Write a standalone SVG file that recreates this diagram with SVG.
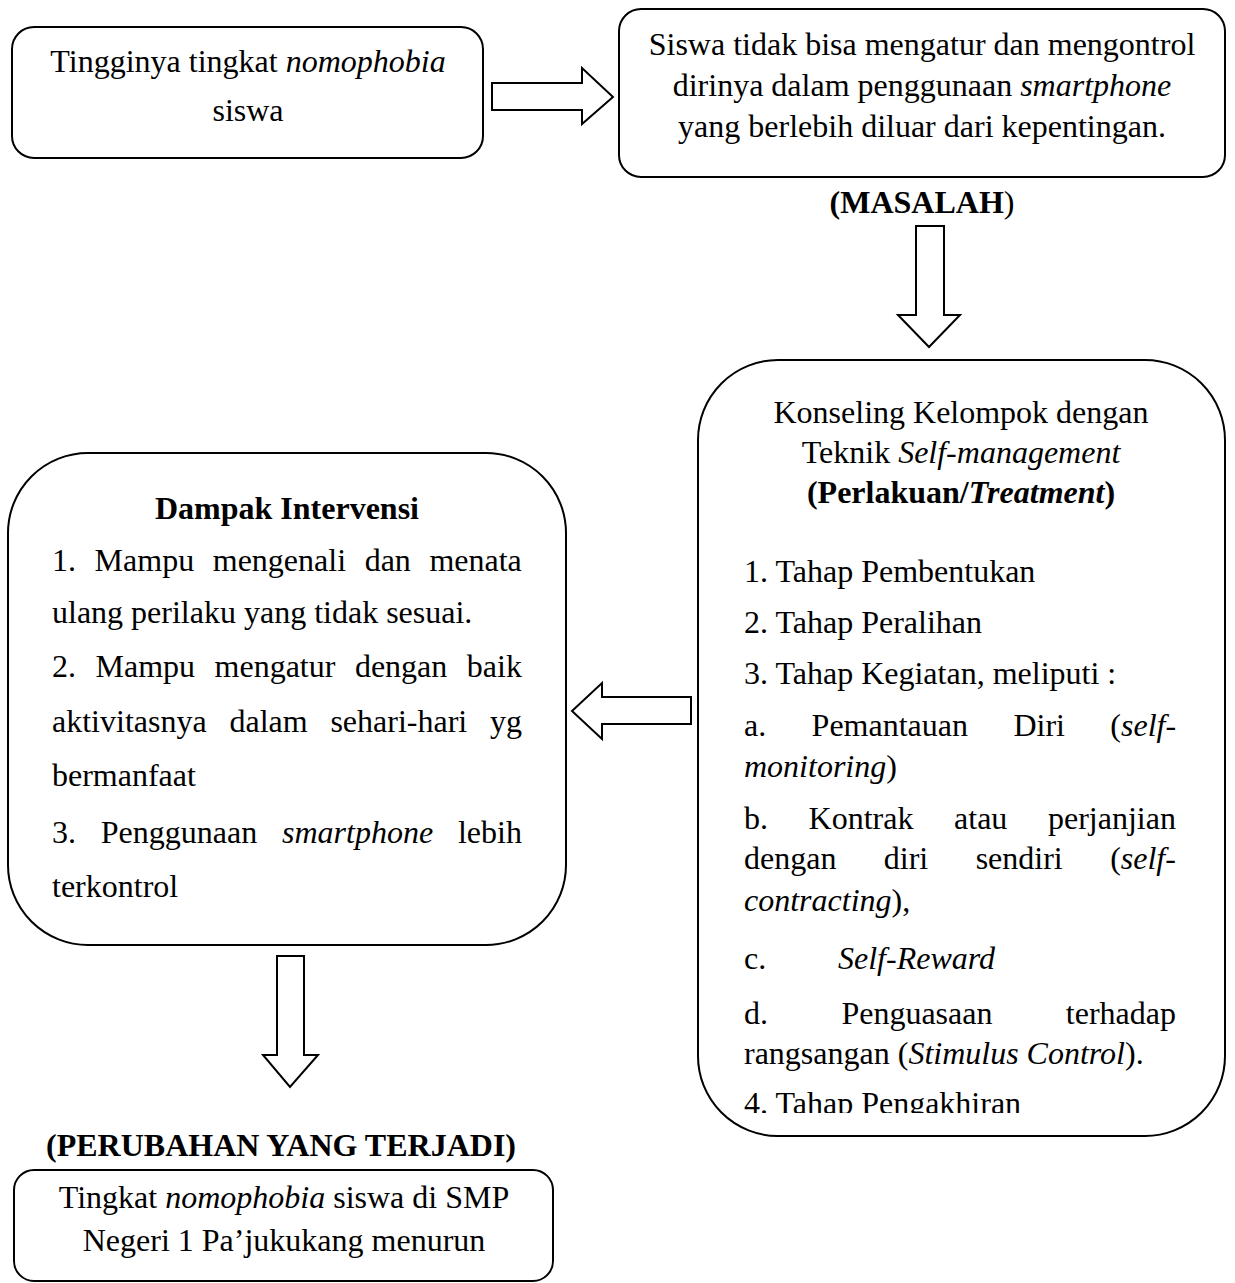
<svg xmlns="http://www.w3.org/2000/svg" width="1235" height="1283" viewBox="0 0 1235 1283">
<style>
.box{fill:#fff;stroke:#000;stroke-width:2}
.arr{fill:#fff;stroke:#000;stroke-width:2;stroke-linejoin:miter}
text{font-family:"Liberation Serif","Times New Roman",serif;font-size:32px;fill:#000}
.c{text-anchor:middle}
.b{font-weight:bold}
.i{font-style:italic}
</style>
<defs>
<clipPath id="clipR"><rect x="697" y="360" width="528" height="753"/></clipPath>
</defs>
<rect width="1235" height="1283" fill="#fff"/>

<g id="connectors">
<polygon class="arr" points="492,83 582,83 582,68 613,97 582,124 582,110 492,110"/>
<polygon class="arr" points="916,226 944,226 944,315 960,315 929,347 898,315 916,315"/>
<polygon class="arr" points="691,697 602,697 602,683 572,711 602,739 602,724 691,724"/>
<polygon class="arr" points="277,956 304,956 304,1055 318,1055 290,1087 263,1055 277,1055"/>
</g>

<g id="n1">
<rect class="box" x="12" y="27" width="471" height="131" rx="22"/>
<text class="c" x="248" y="72">Tingginya tingkat <tspan class="i">nomophobia</tspan></text>
<text class="c" x="248" y="121">siswa</text>
</g>

<g id="n2">
<rect class="box" x="619" y="9" width="606" height="168" rx="22"/>
<text class="c" x="922" y="55">Siswa tidak bisa mengatur dan mengontrol</text>
<text class="c" x="922" y="96">dirinya dalam penggunaan <tspan class="i">smartphone</tspan></text>
<text class="c" x="922" y="137">yang berlebih diluar dari kepentingan.</text>
</g>

<g id="lbl-masalah">
<text class="c" x="922" y="213"><tspan class="b">(MASALAH</tspan>)</text>
</g>

<g id="n3">
<rect class="box" x="698" y="360" width="527" height="776" rx="80"/>
<text class="c" x="961" y="423">Konseling Kelompok dengan</text>
<text class="c" x="961" y="463">Teknik <tspan class="i">Self-management</tspan></text>
<text class="c b" x="961" y="503">(Perlakuan/<tspan class="i">Treatment</tspan>)</text>
<text x="744" y="582">1. Tahap Pembentukan</text>
<text x="744" y="633">2. Tahap Peralihan</text>
<text x="744" y="684">3. Tahap Kegiatan, meliputi :</text>
<text x="744" y="736" word-spacing="37.4">a. Pemantauan Diri (<tspan class="i">self-</tspan></text>
<text x="744" y="777"><tspan class="i">monitoring</tspan>)</text>
<text x="744" y="829" word-spacing="32.6">b. Kontrak atau perjanjian</text>
<text x="744" y="869" word-spacing="39.4">dengan diri sendiri (<tspan class="i">self-</tspan></text>
<text x="744" y="911"><tspan class="i">contracting</tspan>),</text>
<text x="744" y="969">c.</text>
<text x="838" y="969" class="i">Self-Reward</text>
<text x="744" y="1024" word-spacing="65.4">d. Penguasaan terhadap</text>
<text x="744" y="1064">rangsangan (<tspan class="i">Stimulus Control</tspan>).</text>
<text x="744" y="1114" clip-path="url(#clipR)">4. Tahap Pengakhiran</text>
</g>

<g id="n4">
<rect class="box" x="8" y="453" width="558" height="492" rx="80"/>
<text class="c b" x="287" y="519">Dampak Intervensi</text>
<text x="52" y="571" word-spacing="10.6">1. Mampu mengenali dan menata</text>
<text x="52" y="623">ulang perilaku yang tidak sesuai.</text>
<text x="52" y="677" word-spacing="11.5">2. Mampu mengatur dengan baik</text>
<text x="52" y="732" word-spacing="14.8">aktivitasnya dalam sehari-hari yg</text>
<text x="52" y="786">bermanfaat</text>
<text x="52" y="843" word-spacing="16.8">3. Penggunaan <tspan class="i">smartphone</tspan> lebih</text>
<text x="52" y="897">terkontrol</text>
</g>

<g id="lbl-perubahan">
<text class="c b" x="281" y="1156">(PERUBAHAN YANG TERJADI)</text>
</g>

<g id="n5">
<rect class="box" x="14" y="1170" width="539" height="111" rx="20"/>
<text class="c" x="284" y="1208">Tingkat <tspan class="i">nomophobia</tspan> siswa di SMP</text>
<text class="c" x="284" y="1251">Negeri 1 Pa’jukukang menurun</text>
</g>
</svg>
